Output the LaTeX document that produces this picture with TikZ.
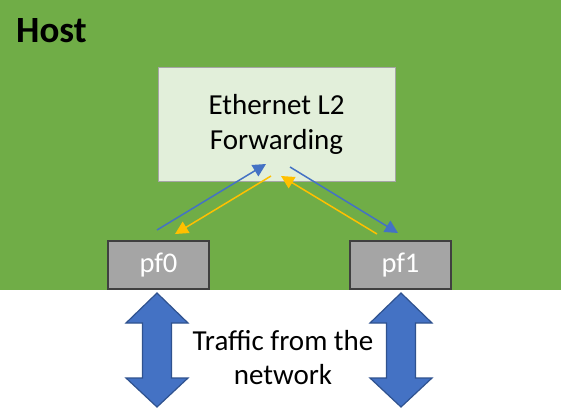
\documentclass[tikz,border=0pt]{standalone}
\usepackage{fontspec}
\setmainfont{Carlito}
\usetikzlibrary{arrows.meta,calc}
\definecolor{hostgreen}{HTML}{70AD47}
\definecolor{boxgreen}{HTML}{E2EFDA}
\definecolor{boxedge}{HTML}{A5A5A5}
\definecolor{pfgray}{HTML}{A5A5A5}
\definecolor{pfedge}{HTML}{404040}
\definecolor{flowblue}{HTML}{4472C4}
\definecolor{flowyellow}{HTML}{FFC000}
\definecolor{bigedge}{HTML}{2F528F}
\tikzset{
  fwdbox/.style={draw=boxedge, line width=1pt, fill=boxgreen, minimum width=237pt, minimum height=113pt, align=center, font=\fontsize{29}{35}\selectfont, inner sep=0pt},
  pfbox/.style={draw=pfedge, line width=2pt, fill=pfgray, minimum width=101pt, minimum height=48pt, text=white, font=\fontsize{28.5}{33}\selectfont, inner sep=0pt},
  blueflow/.style={draw=flowblue, line width=1.5pt, -{Triangle[length=13pt,width=13pt]}},
  yellowflow/.style={draw=flowyellow, line width=1.5pt, -{Triangle[length=13pt,width=13pt]}},
  bigarrow/.style={fill=flowblue, draw=bigedge, line width=1.2pt},
  lbl/.style={align=center, font=\fontsize{29}{34}\selectfont, inner sep=0pt}
}
\begin{document}
\begin{tikzpicture}[x=1pt,y=-1pt]
\useasboundingbox (0,0) rectangle (561,409);
\fill[white] (0,0) rectangle (561,409);
\fill[hostgreen] (0,0) rectangle (561,290);
\node[anchor=base west, inner sep=0pt, font=\fontsize{37}{42}\selectfont\bfseries] (host) at (16,43) {Host};
\node[fwdbox] (eth) at (276.5,124.5) {Ethernet L2\\Forwarding};
\node[pfbox] (pf0) at (158.5,265) {pf0};
\node[pfbox] (pf1) at (400.5,265) {pf1};
% flow endpoints
\coordinate (b1s) at (157,230);
\coordinate (b1e) at (266,164);
\coordinate (y1s) at (271,176);
\coordinate (y1e) at (175,234);
\coordinate (b2s) at (290,167);
\coordinate (b2e) at (398,233);
\coordinate (y2s) at (377,234);
\coordinate (y2e) at (281,176);
\draw[blueflow] (b1s) -- (b1e);
\draw[yellowflow] (y1s) -- (y1e);
\draw[blueflow] (b2s) -- (b2e);
\draw[yellowflow] (y2s) -- (y2e);
% big double arrows
\coordinate (n0) at (157,350);
\coordinate (n1) at (401,350);
\foreach \c in {n0,n1}{
  \draw[bigarrow] ($(\c)+(0,-57)$) -- ($(\c)+(31,-27)$) -- ($(\c)+(14.5,-27)$) -- ($(\c)+(14.5,28)$) -- ($(\c)+(31,28)$) -- ($(\c)+(0,57)$) -- ($(\c)+(-31,28)$) -- ($(\c)+(-14.5,28)$) -- ($(\c)+(-14.5,-27)$) -- ($(\c)+(-31,-27)$) -- cycle;
}
\node[lbl] (traffic) at (283,358) {Traffic from the\\network};
\end{tikzpicture}
\end{document}
